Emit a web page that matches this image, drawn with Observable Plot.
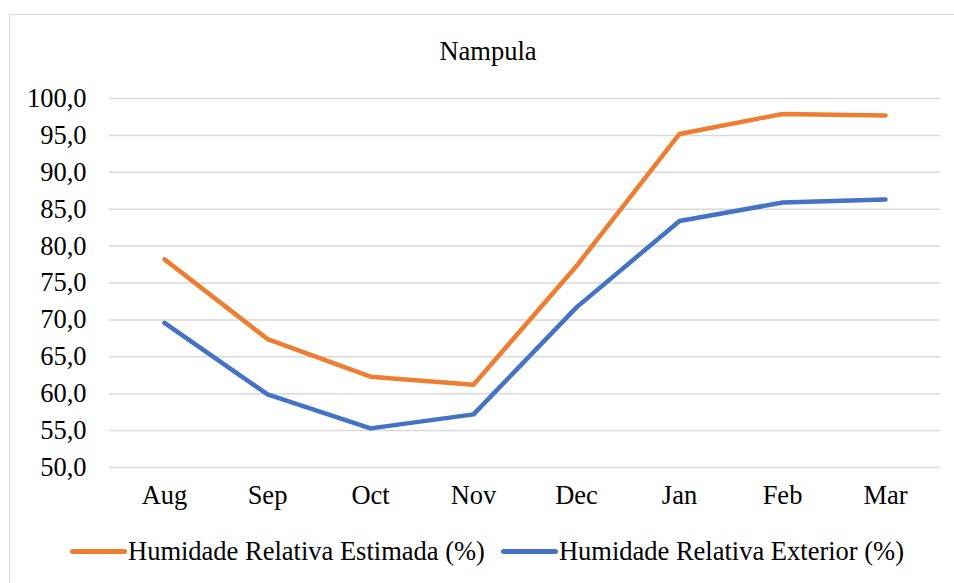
<!DOCTYPE html>
<html>
<head>
<meta charset="utf-8">
<script src="https://cdn.jsdelivr.net/npm/d3@7"></script>
<script src="https://cdn.jsdelivr.net/npm/@observablehq/plot@0.6"></script>
<style>
  html, body { margin: 0; padding: 0; background: #fff; }
  #wrap { position: relative; width: 954px; height: 583px; overflow: hidden; font-family: "Liberation Serif", "Times New Roman", serif; color: #000; }
  #frame { position: absolute; left: 9px; top: 14px; width: 960px; height: 620px; border: 1.5px solid #d9d9d9; box-sizing: border-box; pointer-events: none; z-index: 2; }
  #title { position: absolute; left: 0; top: 0; width: 976px; height: 70px; line-height: 102px; text-align: center; font-size: 26.5px; }
  #chart { position: absolute; left: 0; top: 70px; }
  #legend { position: absolute; left: 70px; top: 520px; height: 63px; display: flex; align-items: center; font-size: 26.5px; white-space: nowrap; }
  .sw { display: inline-block; width: 57px; height: 5px; border-radius: 3px; margin-right: 1px; }
  .item { display: flex; align-items: center; margin-right: 16px; }
</style>
</head>
<body>
<div id="wrap">
  <div id="frame"></div>
  <div id="title">Nampula</div>
  <div id="chart"></div>
  <div id="legend"></div>
</div>
<script>
const months = ["Aug", "Sep", "Oct", "Nov", "Dec", "Jan", "Feb", "Mar"];
const estimada = [78.2, 67.4, 62.3, 61.2, 77.3, 95.2, 97.9, 97.7];
const exterior = [69.6, 59.9, 55.3, 57.2, 71.7, 83.4, 85.9, 86.3];
const yTicks = [50, 55, 60, 65, 70, 75, 80, 85, 90, 95, 100];
const seriesNames = ["Humidade Relativa Estimada (%)", "Humidade Relativa Exterior (%)"];
const seriesColors = ["#ED7D31", "#4472C4"];

const rows = [];
months.forEach((m, i) => {
  rows.push({month: m, value: estimada[i], series: seriesNames[0]});
  rows.push({month: m, value: exterior[i], series: seriesNames[1]});
});

const fmt = d => d3.format(".1f")(d).replace(".", ",");

const chart = Plot.plot({
  width: 954,
  height: 450,
  marginTop: 28,
  marginBottom: 53,
  marginLeft: 109,
  marginRight: 14,
  style: {fontFamily: "Liberation Serif, Times New Roman, serif", fontSize: "26.5px", background: "transparent", color: "#000"},
  x: {type: "point", domain: months, padding: 0.5, label: null, tickSize: 0, tickPadding: 18},
  y: {domain: [50, 100], ticks: yTicks, tickFormat: fmt, label: null, tickSize: 0, tickPadding: 23},
  color: {domain: seriesNames, range: seriesColors},
  marks: [
    Plot.ruleY(yTicks, {stroke: "#d9d9d9", strokeWidth: 1.5}),
    Plot.line(rows, {x: "month", y: "value", z: "series", stroke: "series", strokeWidth: 4.5, strokeLinecap: "round", strokeLinejoin: "round"})
  ]
});
document.getElementById("chart").appendChild(chart);

const legend = document.getElementById("legend");
seriesNames.forEach((name, i) => {
  const item = document.createElement("div");
  item.className = "item";
  const sw = document.createElement("span");
  sw.className = "sw";
  sw.style.background = seriesColors[i];
  const t = document.createElement("span");
  t.textContent = name;
  item.appendChild(sw);
  item.appendChild(t);
  legend.appendChild(item);
});
</script>
</body>
</html>
